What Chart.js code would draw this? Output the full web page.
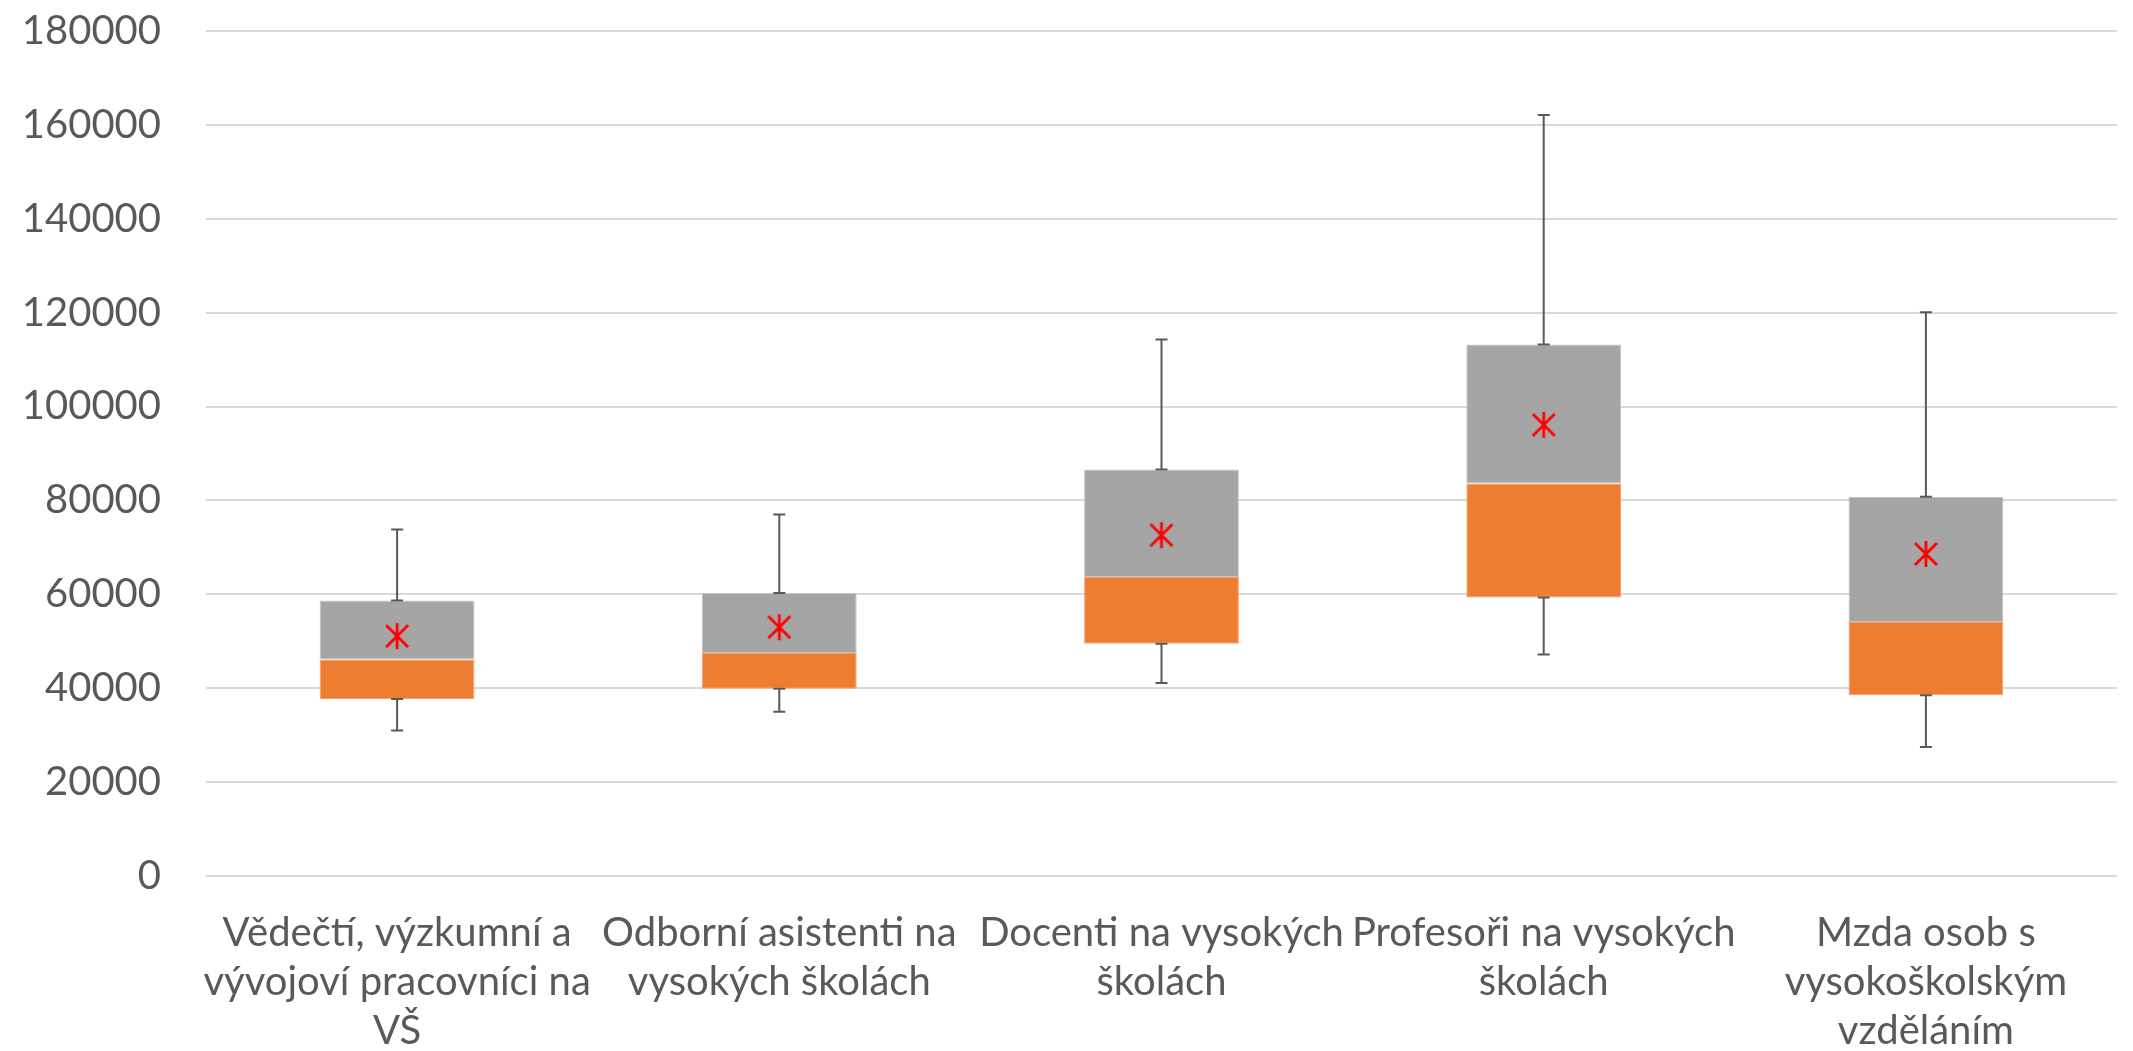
<!DOCTYPE html>
<html>
<head>
<meta charset="utf-8">
<script src="https://cdn.jsdelivr.net/npm/chart.js@4.4.1/dist/chart.umd.min.js"></script>
<style>
  html, body { margin: 0; padding: 0; background: #fff; }
  #wrap { width: 2133px; height: 1051px; }
</style>
</head>
<body>
<div id="wrap"><canvas id="boxChart"></canvas></div>
<script>
// Category labels (wrapped as in the original)
const categories = [
    ["Vědečtí, výzkumní a", "vývojoví pracovníci na", "VŠ"],
    ["Odborní asistenti na", "vysokých školách"],
    ["Docenti na vysokých", "školách"],
    ["Profesoři na vysokých", "školách"],
    ["Mzda osob s", "vysokoškolským", "vzděláním"]
];

// Box plot values
const minValues    = [31000, 35000, 41100, 47200, 27500];
const q1Values     = [37700, 39900, 49500, 59300, 38500];
const medianValues = [46100, 47500, 63700, 83600, 54100];
const q3Values     = [58700, 60300, 86600, 113200, 80800];
const maxValues    = [73800, 77000, 114300, 162100, 120100];
const meanValues   = [51100, 53000, 72600, 96100, 68600];

const yTicks = { min: 0, max: 180000, step: 20000 };

// asterisk marker like the Excel one
function makeAsterisk(size, color) {
    const c = document.createElement('canvas');
    c.width = size; c.height = size;
    const g = c.getContext('2d');
    const m = 2, s = size - 2;
    g.strokeStyle = color;
    g.lineWidth = 2.8;
    g.beginPath();
    g.moveTo(size / 2, m); g.lineTo(size / 2, s);
    g.moveTo(m + 2, m + 2); g.lineTo(s - 2, s - 2);
    g.moveTo(s - 2, m + 2); g.lineTo(m + 2, s - 2);
    g.stroke();
    return c;
}

// whiskers drawn from the min/max arrays through the y scale
const whiskerPlugin = {
    id: 'whiskers',
    afterDatasetsDraw(chart) {
        const ctx = chart.ctx;
        const y = chart.scales.y;
        const meta = chart.getDatasetMeta(1);
        ctx.save();
        ctx.strokeStyle = '#595959';
        ctx.lineWidth = 2;
        meta.data.forEach(function(bar, i) {
            const x = bar.x;
            const pairs = [[q3Values[i], maxValues[i]], [q1Values[i], minValues[i]]];
            pairs.forEach(function(p) {
                const y0 = y.getPixelForValue(p[0]);
                const y1 = y.getPixelForValue(p[1]);
                ctx.beginPath();
                ctx.moveTo(x, y0); ctx.lineTo(x, y1);
                ctx.moveTo(x - 6, y1); ctx.lineTo(x + 6, y1);
                ctx.moveTo(x - 6, y0); ctx.lineTo(x + 6, y0);
                ctx.stroke();
            });
        });
        ctx.restore();
    }
};

const lowerBox = q1Values.map(function(v, i) { return [v, medianValues[i]]; });
const upperBox = medianValues.map(function(v, i) { return [v, q3Values[i]]; });

const data = {
    labels: categories,
    datasets: [{
        type: 'line',
        label: 'Průměr',
        data: meanValues,
        showLine: false,
        pointStyle: makeAsterisk(30, '#FF0000'),
        pointRadius: 15,
        order: -1
    }, {
        type: 'bar',
        label: 'Q1 - medián',
        data: lowerBox,
        backgroundColor: '#ED7D31',
        borderColor: '#F4A06A',
        borderWidth: 1,
        borderSkipped: false,
        grouped: false,
        categoryPercentage: 1,
        barPercentage: 0.405
    }, {
        type: 'bar',
        label: 'medián - Q3',
        data: upperBox,
        backgroundColor: '#A5A5A5',
        borderColor: '#C4C4C4',
        borderWidth: 1,
        borderSkipped: false,
        grouped: false,
        categoryPercentage: 1,
        barPercentage: 0.405
    }]
};

const config = {
    data: data,
    plugins: [whiskerPlugin],
    options: {
        responsive: true,
        maintainAspectRatio: false,
        animation: false,
        layout: { padding: { top: 31, right: 0, bottom: 0, left: 0 } },
        plugins: {
            legend: { display: false },
            tooltip: { enabled: false }
        },
        scales: {
            x: {
                afterFit: function(scale) { scale.height = 175; },
                grid: { display: false, drawTicks: false },
                border: { display: false },
                ticks: {
                    color: '#595959',
                    padding: 33,
                    maxRotation: 0,
                    autoSkip: false,
                    font: { family: 'Lato', size: 40, lineHeight: 1.22 }
                }
            },
            y: {
                min: yTicks.min,
                max: yTicks.max,
                afterFit: function(scale) { scale.width = 206; },
                grid: {
                    color: '#D9D9D9',
                    lineWidth: 2,
                    drawTicks: true,
                    tickLength: 45,
                    tickColor: 'rgba(0,0,0,0)'
                },
                border: { display: false },
                ticks: {
                    stepSize: yTicks.step,
                    color: '#595959',
                    padding: 0,
                    font: { family: 'Lato', size: 40 },
                    callback: function(v) { return String(v); }
                }
            }
        }
    }
};

new Chart(document.getElementById('boxChart'), config);
</script>
</body>
</html>
